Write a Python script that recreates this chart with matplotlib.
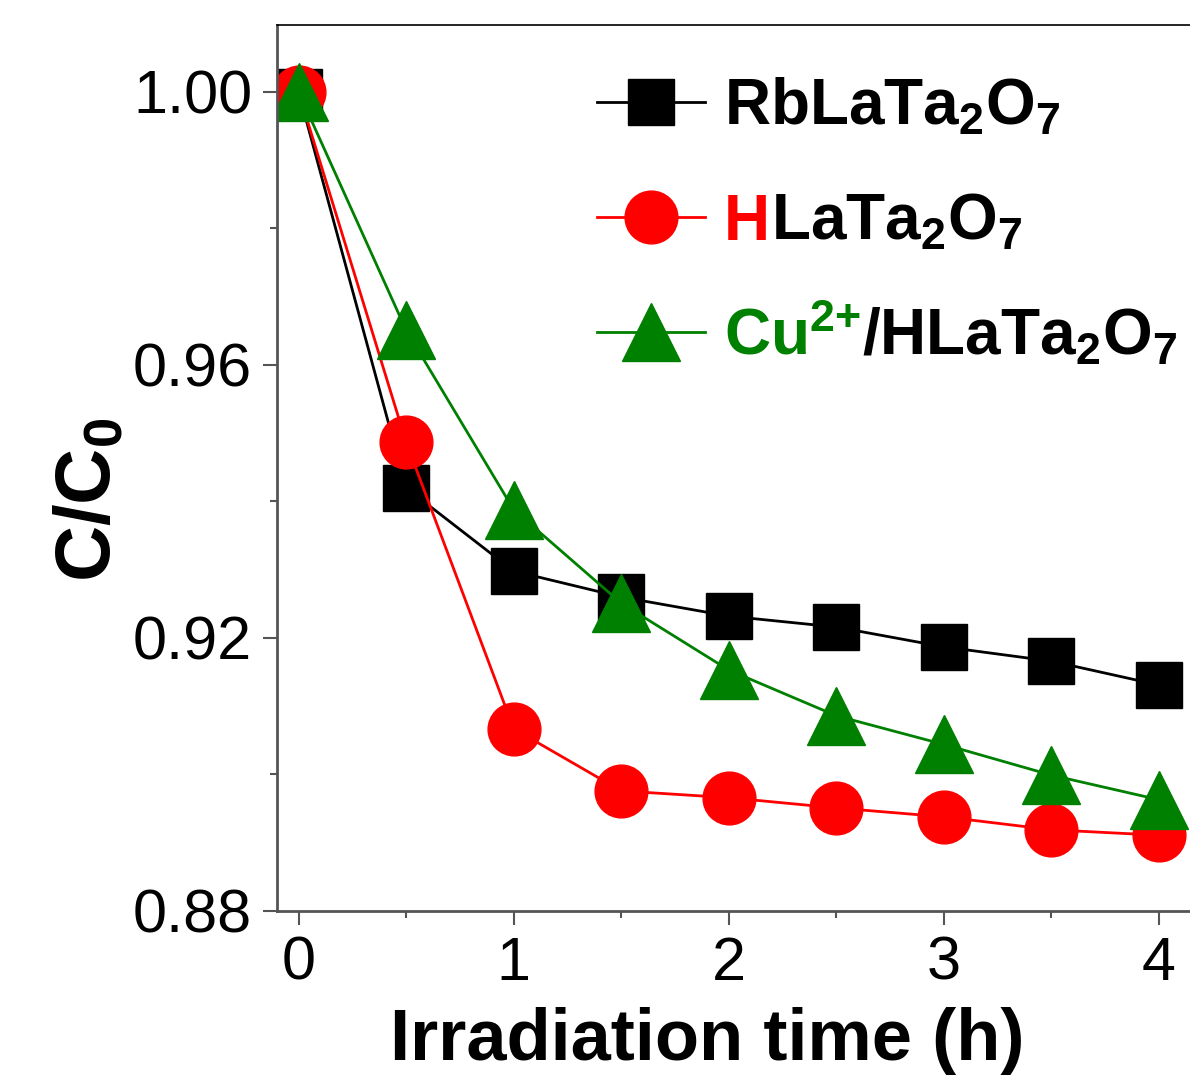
import matplotlib
matplotlib.use("Agg")
import matplotlib.pyplot as plt
from matplotlib.text import Text
from matplotlib.transforms import IdentityTransform

plt.rcParams['font.family'] = ['Liberation Sans', 'DejaVu Sans']
plt.rcParams['mathtext.fontset'] = 'custom'
plt.rcParams['mathtext.rm'] = 'Liberation Sans:bold'
plt.rcParams['mathtext.bf'] = 'Liberation Sans:bold'
plt.rcParams['mathtext.default'] = 'rm'

# irradiation time (h) and normalised concentration C/C0
time_h = [0, 0.5, 1, 1.5, 2, 2.5, 3, 3.5, 4]
rb_lata = [1.000, 0.9420, 0.9298, 0.9260, 0.9232, 0.9216, 0.9187, 0.9166, 0.9131]
h_lata = [1.000, 0.9487, 0.9067, 0.8976, 0.8966, 0.8951, 0.8938, 0.8919, 0.8911]
cu_h_lata = [1.000, 0.9651, 0.9388, 0.9251, 0.9153, 0.9086, 0.9044, 0.8999, 0.8963]

# legend labels: coloured head, black tail
label_heads = ['RbLaTa$_2$O$_7$', 'H', 'Cu$^{2{+}}$']
label_tails = [None, 'LaTa$_2$O$_7$', '/HLaTa$_2$O$_7$']
series_colors = ['black', 'red', 'green']

DPI = 100
LEG_FS = 46

fig = plt.figure(figsize=(11.9, 10.79), dpi=DPI)
ax = fig.add_axes([0.2328, 0.1557, 0.7672, 0.8211])

ax.plot(time_h, rb_lata, '-s', color=series_colors[0], lw=2, ms=33, label=label_heads[0])
ax.plot(time_h, h_lata, '-o', color=series_colors[1], lw=2, ms=38, label=label_heads[1])
ax.plot(time_h, cu_h_lata, '-^', color=series_colors[2], lw=2, ms=42, label=label_heads[2])

ax.set_xlim(-0.1, 4.144)
ax.set_ylim(0.88, 1.0098)
ax.set_xticks([0, 1, 2, 3, 4])
ax.set_xticks([0.5, 1.5, 2.5, 3.5], minor=True)
ax.set_yticks([0.88, 0.92, 0.96, 1.00])
ax.set_yticks([0.90, 0.94, 0.98], minor=True)
ax.set_yticklabels(['0.88', '0.92', '0.96', '1.00'])

ax.tick_params(which='both', direction='out', color='#555555', width=1.5,
               labelsize=44, pad=8)
ax.tick_params(which='major', length=10)
ax.tick_params(which='minor', length=5)

for side in ['left', 'bottom']:
    ax.spines[side].set_color('#555555')
    ax.spines[side].set_linewidth(2)
ax.spines['top'].set_linewidth(1.2)
ax.spines['right'].set_visible(False)

ax.set_xlabel('Irradiation time (h)', fontsize=52, fontweight='bold', labelpad=10)
ax.xaxis.label.set_x(0.471)
ax.set_ylabel('C/C$_0$', fontsize=56, fontweight='bold')
ax.yaxis.set_label_coords(-0.165, 0.464)

leg = ax.legend(loc='upper left', bbox_to_anchor=(0.350, 0.942), frameon=False,
                fontsize=LEG_FS, handlelength=1.69, handletextpad=0.3,
                labelspacing=0.86, borderaxespad=0, borderpad=0)
for t, c in zip(leg.get_texts(), series_colors):
    t.set_fontweight('bold')
    t.set_color(c)

# append the black remainder of each label after its coloured head
fig.canvas.draw()
renderer = fig.canvas.get_renderer()
em = LEG_FS * DPI / 72.0
for t, tail in zip(leg.get_texts(), label_tails):
    if tail is None:
        continue
    bb = t.get_window_extent(renderer)
    base_y = t.get_transform().transform(t.get_position())[1]
    fig.add_artist(Text(bb.x1 + 0.02 * em, base_y, tail, color='black',
                        transform=IdentityTransform(), fontsize=LEG_FS,
                        fontweight='bold', va='baseline', ha='left'))

fig.savefig('out.png', dpi=DPI)
